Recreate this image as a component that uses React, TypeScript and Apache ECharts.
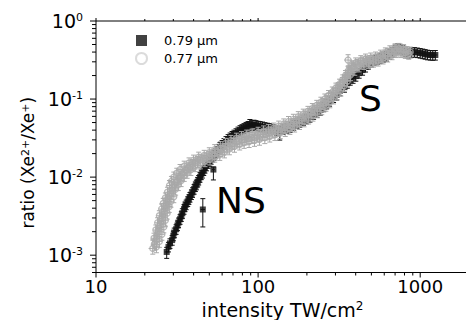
import React, { useEffect, useRef } from 'react';
import * as echarts from 'echarts';

const FONT = 'DejaVu Sans';

const X_MIN = 10;
const X_MAX = 2000;
const Y_MIN = 0.0006;
const Y_MAX = 1;

const X_MAJOR = [10, 100, 1000];
const X_MINOR = [20, 30, 40, 50, 60, 70, 80, 90, 200, 300, 400, 500, 600, 700, 800, 900, 2000];
const Y_MAJOR = [0.001, 0.01, 0.1, 1];
const Y_MINOR = [
  0.0006, 0.0007, 0.0008, 0.0009,
  0.002, 0.003, 0.004, 0.005, 0.006, 0.007, 0.008, 0.009,
  0.02, 0.03, 0.04, 0.05, 0.06, 0.07, 0.08, 0.09,
  0.2, 0.3, 0.4, 0.5, 0.6, 0.7, 0.8, 0.9,
];

const SERIES_079 = '0.79 μm';
const SERIES_077 = '0.77 μm';

// 0.79 µm: [intensity TW/cm², ratio]
const black079: [number, number][] = [
  [28.0, 0.00128], [28.6, 0.00142], [29.5, 0.00156], [30.0, 0.00178], [30.4, 0.00195],
  [31.2, 0.00215], [31.8, 0.0024], [32.3, 0.00262], [33.0, 0.00289], [33.6, 0.00315],
  [34.1, 0.00345], [34.9, 0.00389], [35.4, 0.0042], [36.0, 0.00445], [36.8, 0.0049],
  [37.4, 0.0052], [38.0, 0.00556], [38.8, 0.006], [39.4, 0.0064], [40.3, 0.00703],
  [41.0, 0.0076], [41.6, 0.008], [42.4, 0.0087], [43.0, 0.0092], [43.8, 0.01],
  [44.6, 0.0108], [45.3, 0.0113], [46.2, 0.0122], [47.0, 0.0131], [48.0, 0.014],
  [49.2, 0.0151], [50.2, 0.016], [51.3, 0.017], [52.4, 0.0182], [53.5, 0.0192],
  [54.6, 0.0205], [55.8, 0.0216], [57.0, 0.023], [58.2, 0.0243], [60.0, 0.0258],
  [61.6, 0.0273], [63.4, 0.029], [65.3, 0.0307], [67.2, 0.0322], [69.1, 0.0337],
  [71.0, 0.035], [73.1, 0.0365], [75.2, 0.0383], [77.4, 0.04], [79.6, 0.0412],
  [81.9, 0.0425], [84.3, 0.044], [86.7, 0.0451], [89.0, 0.048], [91.7, 0.0464],
  [94.3, 0.047], [97.0, 0.0464], [100.0, 0.0455], [102.9, 0.0451], [106.5, 0.0445],
  [110.2, 0.0437], [114.0, 0.043], [118.0, 0.0425], [124.0, 0.041], [130.0, 0.0395],
  [143.0, 0.041], [150.0, 0.0425], [158.0, 0.0437], [166.0, 0.0465], [173.0, 0.049],
  [181.0, 0.0508], [190.0, 0.0535], [199.0, 0.056], [209.0, 0.0589], [220.0, 0.064],
  [231.0, 0.068], [242.0, 0.0724], [254.0, 0.08], [265.0, 0.087], [276.0, 0.0942],
  [292.0, 0.105], [305.0, 0.113], [320.0, 0.128], [341.0, 0.142], [355.0, 0.16],
  [370.0, 0.175], [385.0, 0.185], [401.0, 0.197], [420.0, 0.215], [441.0, 0.235],
  [460.0, 0.258], [479.0, 0.281], [500.0, 0.3], [520.0, 0.316], [545.0, 0.325],
  [567.0, 0.335], [592.0, 0.345], [619.0, 0.356], [648.0, 0.375], [676.0, 0.4],
  [700.0, 0.43], [728.0, 0.451], [755.0, 0.44], [780.0, 0.425], [810.0, 0.405],
  [842.0, 0.389], [880.0, 0.395], [921.0, 0.4], [960.0, 0.395], [1000.0, 0.389],
  [1036.0, 0.383], [1073.0, 0.377], [1110.0, 0.37], [1155.0, 0.367], [1195.0, 0.365],
  [1240.0, 0.367],
];
// 0.79 µm points with individually read error bars: [I, r, rLow, rHigh, ILow, IHigh]
const black079Big: number[][] = [
  [27.3, 0.0011, 0.00091, 0.00126, 26.5, 28.1],
  [45.6, 0.00385, 0.0023, 0.0053, 44.2, 47.0],
  [53.0, 0.0125, 0.0092, 0.0135, 52.0, 54.0],
  [136.0, 0.0385, 0.0298, 0.045, 132.0, 140.0],
];

// 0.77 µm: [intensity TW/cm², ratio] — centre of the band
const gray077: [number, number][] = [
  [22.9, 0.00138], [23.5, 0.00156], [23.8, 0.00175], [24.1, 0.00198], [24.5, 0.0022],
  [24.8, 0.00243], [25.2, 0.0027], [25.5, 0.00298], [25.9, 0.0033], [26.3, 0.00366],
  [26.7, 0.004], [27.0, 0.00438], [27.4, 0.0048], [27.8, 0.0052], [28.4, 0.0057],
  [29.0, 0.0062], [29.4, 0.0068], [29.8, 0.0074], [30.5, 0.008], [31.2, 0.0086],
  [31.8, 0.0092], [32.5, 0.0097], [33.2, 0.0103], [33.9, 0.0109], [34.9, 0.0116],
  [35.9, 0.0123], [37.0, 0.0131], [38.0, 0.0139], [39.4, 0.0145], [40.8, 0.0151],
  [42.3, 0.0158], [43.8, 0.0166], [45.7, 0.017], [47.7, 0.0175], [49.8, 0.0184],
  [51.9, 0.0192], [54.2, 0.02], [56.6, 0.0209], [59.0, 0.0219], [61.6, 0.0229],
  [64.3, 0.0243], [67.2, 0.0258], [70.1, 0.027], [73.1, 0.0281], [76.3, 0.029],
  [79.7, 0.0298], [83.1, 0.0307], [86.7, 0.0316], [90.5, 0.0321], [94.4, 0.0326],
  [98.5, 0.0336], [102.9, 0.0346], [107.3, 0.0351], [112.0, 0.0356], [117.0, 0.0366],
  [122.0, 0.0377], [127.5, 0.0388], [133.0, 0.04], [139.0, 0.0418], [145.0, 0.0437],
  [151.0, 0.045], [158.0, 0.0464], [165.0, 0.0485], [172.0, 0.0508], [179.0, 0.0538],
  [187.0, 0.0571], [195.0, 0.0606], [204.0, 0.0644], [213.0, 0.0683], [222.0, 0.0724],
  [232.0, 0.077], [242.0, 0.0816], [252.0, 0.0876], [263.0, 0.0942], [272.0, 0.101],
  [282.0, 0.109], [292.0, 0.119], [303.0, 0.13], [312.0, 0.14], [322.0, 0.151],
  [331.0, 0.163], [341.0, 0.175], [348.0, 0.189], [355.0, 0.203], [362.0, 0.218],
  [370.0, 0.235], [380.0, 0.25], [390.0, 0.265], [408.0, 0.277], [427.0, 0.289],
  [447.0, 0.298], [467.0, 0.307], [488.0, 0.311], [510.0, 0.316], [533.0, 0.325],
  [557.0, 0.335], [582.0, 0.35], [608.0, 0.367], [635.0, 0.383], [664.0, 0.4],
  [690.0, 0.412], [718.0, 0.425], [753.0, 0.425], [793.0, 0.413], [830.0, 0.405],
  [868.0, 0.4],
];
// 0.77 µm: points read along the upper/lower edges of the band
const gray077Spread: [number, number][] = [
  [23.6, 0.00128], [24.6, 0.0015], [22.8, 0.00165], [25.5, 0.00185], [23.4, 0.0021],
  [26.2, 0.0023], [24.0, 0.0026], [26.8, 0.0028], [24.6, 0.0032], [27.5, 0.00345],
  [25.4, 0.0039], [28.3, 0.0042], [26.0, 0.0046], [29.0, 0.0049], [26.8, 0.0054],
  [30.2, 0.0056], [27.6, 0.0064], [31.0, 0.007], [28.4, 0.0078], [32.2, 0.008],
  [29.2, 0.0088], [33.5, 0.009], [30.2, 0.01], [35.0, 0.0105], [31.5, 0.0112],
  [36.5, 0.0115], [33.0, 0.0125], [38.5, 0.0125], [35.0, 0.0138], [41.0, 0.014],
  [37.5, 0.0152], [44.0, 0.0152], [40.0, 0.0165], [47.0, 0.0162], [43.0, 0.018],
  [50.5, 0.017], [46.5, 0.019], [54.0, 0.0185], [50.0, 0.0205], [58.0, 0.0195],
  [54.0, 0.0225], [62.0, 0.021], [58.5, 0.0245], [66.5, 0.023], [63.0, 0.027],
  [71.5, 0.0248], [68.0, 0.0295], [77.0, 0.0265], [73.5, 0.0315], [82.0, 0.0278],
  [79.0, 0.033], [88.0, 0.0285], [85.0, 0.0345], [95.0, 0.0295], [92.0, 0.0355],
  [102.0, 0.0305], [100.0, 0.0375], [110.0, 0.032], [108.0, 0.039], [118.0, 0.0335],
  [116.0, 0.0405], [127.0, 0.035], [125.0, 0.0425], [137.0, 0.037], [134.0, 0.045],
  [147.0, 0.0395], [144.0, 0.048], [157.0, 0.042], [154.0, 0.0515], [168.0, 0.045],
  [165.0, 0.055], [180.0, 0.0485], [177.0, 0.0595], [192.0, 0.0525], [190.0, 0.064],
  [205.0, 0.057], [203.0, 0.0695], [218.0, 0.062], [216.0, 0.0755], [232.0, 0.0685],
  [230.0, 0.083], [247.0, 0.075], [244.0, 0.091], [262.0, 0.083], [258.0, 0.1],
  [277.0, 0.092], [272.0, 0.111], [292.0, 0.103], [287.0, 0.123], [308.0, 0.116],
  [302.0, 0.138], [324.0, 0.13], [318.0, 0.155], [340.0, 0.148], [333.0, 0.176],
  [356.0, 0.17], [346.0, 0.2], [372.0, 0.205], [360.0, 0.23], [395.0, 0.24],
  [378.0, 0.265], [420.0, 0.265], [400.0, 0.29], [450.0, 0.285], [430.0, 0.31],
  [480.0, 0.295], [460.0, 0.325], [515.0, 0.305], [495.0, 0.335], [550.0, 0.315],
  [530.0, 0.345], [590.0, 0.335], [570.0, 0.365], [630.0, 0.355], [610.0, 0.39],
  [670.0, 0.38], [650.0, 0.415], [710.0, 0.405], [700.0, 0.44], [760.0, 0.405],
  [740.0, 0.445], [810.0, 0.395], [790.0, 0.43], [850.0, 0.385],
];
const gray077Big: number[][] = [
  [22.4, 0.00122, 0.00103, 0.00156, 21.1, 23.8],
  [359.0, 0.316, 0.26, 0.37, 340.0, 380.0],
];

// typical relative error bars
const ERR_R_079 = 0.14;
const ERR_R_077 = 0.16;
const ERR_I_079 = 0.03;
const ERR_I_077 = 0.04;

const BLACK = '#111111';
const GRAY = '#a9a9a9';

function withErrors(pts: [number, number][], er: number, ei: number, big: number[][]) {
  return pts
    .map(([i, r]) => [i, r, r * (1 - er), r * (1 + er), i * (1 - ei), i * (1 + ei)])
    .concat(big);
}

function errorRenderer(color: string) {
  const cap = 2.5;
  return (_params: any, api: any) => {
    const x = api.value(0);
    const y = api.value(1);
    const lo = api.coord([x, api.value(2)]);
    const hi = api.coord([x, api.value(3)]);
    const le = api.coord([api.value(4), y]);
    const ri = api.coord([api.value(5), y]);
    const style = { stroke: color, lineWidth: 1 };
    return {
      type: 'group',
      children: [
        { type: 'line', shape: { x1: lo[0], y1: lo[1], x2: hi[0], y2: hi[1] }, style },
        { type: 'line', shape: { x1: lo[0] - cap, y1: lo[1], x2: lo[0] + cap, y2: lo[1] }, style },
        { type: 'line', shape: { x1: hi[0] - cap, y1: hi[1], x2: hi[0] + cap, y2: hi[1] }, style },
        { type: 'line', shape: { x1: le[0], y1: le[1], x2: ri[0], y2: ri[1] }, style },
      ],
    };
  };
}

function isPow10(v: number) {
  const l = Math.log10(v);
  return Math.abs(l - Math.round(l)) < 1e-6;
}

export default function App() {
  const ref = useRef<HTMLDivElement>(null);
  useEffect(() => {
    document.body.style.margin = '0';
    const chart = echarts.init(ref.current!, null, { renderer: 'svg' });

    // tick marks: [x, y, length, side]; side 0=left axis, 1=bottom axis, 2=top edge
    const tickData: number[][] = [
      ...Y_MAJOR.map((v) => [X_MIN, v, 6, 0]),
      ...Y_MINOR.map((v) => [X_MIN, v, 4, 0]),
      ...X_MAJOR.map((v) => [v, Y_MIN, 5, 1]),
      ...X_MINOR.map((v) => [v, Y_MIN, 3, 1]),
      ...X_MAJOR.map((v) => [v, Y_MAX, 3, 2]),
      ...X_MINOR.map((v) => [v, Y_MAX, 2, 2]),
    ];

    const grayAll = gray077.concat(gray077Spread);

    const option: any = {
      animation: false,
      backgroundColor: '#ffffff',
      grid: {
        left: 96,
        top: 21,
        right: -3,
        bottom: 47.5,
        show: true,
        borderColor: '#000',
        borderWidth: 1,
        backgroundColor: 'transparent',
        containLabel: false,
        outerBoundsMode: 'none',
      },
      legend: {
        orient: 'vertical',
        left: 135,
        top: 34,
        padding: 0,
        itemWidth: 11,
        itemHeight: 11,
        itemGap: 5,
        textStyle: { fontFamily: FONT, fontSize: 13, color: '#000', padding: [0, 0, 0, 12] },
        data: [
          { name: SERIES_079, icon: 'rect', itemStyle: { color: BLACK } },
          {
            name: SERIES_077,
            icon: 'circle',
            itemStyle: { color: 'transparent', borderColor: '#d2d2d2', borderWidth: 2 },
          },
        ],
      },
      xAxis: {
        type: 'log',
        logBase: 10,
        min: X_MIN,
        max: X_MAX,
        axisLine: { show: false },
        axisTick: { show: false },
        splitLine: { show: false },
        axisLabel: {
          fontFamily: FONT,
          fontSize: 18,
          color: '#000',
          margin: 5,
          formatter: (v: number) => (isPow10(v) ? String(Math.round(v)) : ''),
        },
        name: 'intensity TW/cm{sup|2}',
        nameLocation: 'middle',
        nameGap: 16,
        nameTextStyle: {
          fontFamily: FONT,
          fontSize: 19,
          color: '#000',
          rich: { sup: { fontFamily: FONT, fontSize: 12, color: '#000', verticalAlign: 'top' } },
        },
      },
      yAxis: {
        type: 'log',
        logBase: 10,
        min: Y_MIN,
        max: Y_MAX,
        axisLine: { show: false },
        axisTick: { show: false },
        splitLine: { show: false },
        axisLabel: {
          fontFamily: FONT,
          fontSize: 19,
          color: '#000',
          margin: 13,
          formatter: (v: number) => (isPow10(v) ? `10{sup|${Math.round(Math.log10(v))}}` : ''),
          rich: { sup: { fontFamily: FONT, fontSize: 11, color: '#000', verticalAlign: 'top' } },
        },
        name: 'ratio (Xe{sup|2+}/Xe{sup|+})',
        nameLocation: 'middle',
        nameGap: 58,
        nameTextStyle: {
          fontFamily: FONT,
          fontSize: 17,
          color: '#000',
          padding: [0, 32, 0, 0],
          rich: { sup: { fontFamily: FONT, fontSize: 11, color: '#000', verticalAlign: 'top' } },
        },
      },
      graphic: [
        { type: 'text', x: 216, y: 182, style: { text: 'NS', fontFamily: FONT, fontSize: 36, fill: '#000' } },
        { type: 'text', x: 359, y: 80, style: { text: 'S', fontFamily: FONT, fontSize: 36, fill: '#000' } },
      ],
      series: [
        {
          name: 'err079',
          type: 'custom',
          renderItem: errorRenderer(BLACK),
          data: withErrors(black079, ERR_R_079, ERR_I_079, black079Big),
          encode: { x: [0, 4, 5], y: [1, 2, 3] },
          silent: true,
          z: 2,
        },
        {
          name: SERIES_079,
          type: 'scatter',
          symbol: 'rect',
          symbolSize: 6,
          itemStyle: { color: BLACK },
          data: black079.concat(black079Big.map((d) => [d[0], d[1]] as [number, number])),
          z: 3,
        },
        {
          name: 'err077',
          type: 'custom',
          renderItem: errorRenderer(GRAY),
          data: withErrors(grayAll, ERR_R_077, ERR_I_077, gray077Big),
          encode: { x: [0, 4, 5], y: [1, 2, 3] },
          silent: true,
          z: 4,
        },
        {
          name: SERIES_077,
          type: 'scatter',
          symbol: 'circle',
          symbolSize: 6,
          itemStyle: { color: 'transparent', borderColor: GRAY, borderWidth: 1.3 },
          data: grayAll.concat(gray077Big.map((d) => [d[0], d[1]] as [number, number])),
          z: 5,
        },
        {
          name: 'ticks',
          type: 'custom',
          clip: false,
          silent: true,
          z: 10,
          encode: { x: 0, y: 1 },
          data: tickData,
          renderItem: (_p: any, api: any) => {
            const pt = api.coord([api.value(0), api.value(1)]);
            const len = api.value(2);
            const side = api.value(3);
            let shape;
            if (side === 0) shape = { x1: pt[0] - len, y1: pt[1], x2: pt[0], y2: pt[1] };
            else if (side === 1) shape = { x1: pt[0], y1: pt[1], x2: pt[0], y2: pt[1] + len };
            else shape = { x1: pt[0], y1: pt[1] - len, x2: pt[0], y2: pt[1] };
            return { type: 'line', shape, style: { stroke: '#000', lineWidth: 1 } };
          },
        },
      ],
    };

    chart.setOption(option);
    return () => chart.dispose();
  }, []);
  return <div ref={ref} style={{ width: 466, height: 320 }} />;
}
